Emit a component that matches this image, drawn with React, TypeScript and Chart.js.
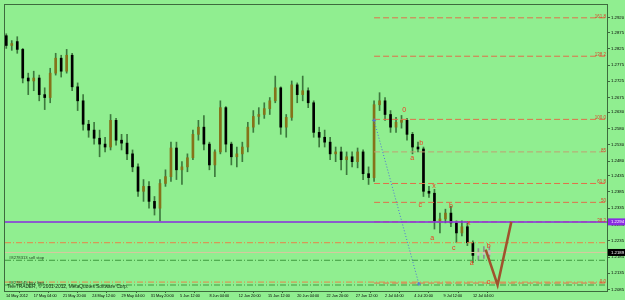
import React, { useEffect, useRef } from "react";
import { Chart, registerables } from "chart.js";

Chart.register(...registerables);

// ---- candle data (12h candles, x = H4 bar index since 14 May 2012 00:00) ----
const candleBars = [
  4, 7, 10, 13, 16, 19, 22, 25, 28, 31, 34, 37, 40, 43, 46, 49, 52, 55, 58, 61,
  64, 67, 70, 73, 76, 79, 82, 85, 88, 91, 94, 97, 100, 103, 106, 109, 112, 115, 118, 121,
  124, 127, 130, 133, 136, 139, 142, 145, 148, 151, 154, 157, 160, 163, 166, 169, 172, 175, 178, 181,
  184, 187, 190, 193, 196, 199, 202, 205, 208, 211, 214, 217, 220, 223, 226, 229, 232, 235, 238, 241,
  244, 247, 250, 253, 256, 259, 262, 265, 268,
];
const opens = [
  1.2865, 1.2835, 1.2847, 1.2823, 1.2735, 1.2726, 1.2735, 1.2684, 1.2675, 1.2750,
  1.2796, 1.2756, 1.2805, 1.2708, 1.2665, 1.2593, 1.2575, 1.2550, 1.2532, 1.2523,
  1.2605, 1.2544, 1.2535, 1.2502, 1.2462, 1.2387, 1.2402, 1.2356, 1.2335, 1.2411,
  1.2432, 1.2520, 1.2453, 1.2462, 1.2490, 1.2562, 1.2584, 1.2532, 1.2468, 1.2508,
  1.2644, 1.2532, 1.2493, 1.2502, 1.2523, 1.2584, 1.2617, 1.2623, 1.2641, 1.2665,
  1.2705, 1.2584, 1.2614, 1.2714, 1.2684, 1.2696, 1.2659, 1.2568, 1.2553, 1.2538,
  1.2502, 1.2508, 1.2484, 1.2493, 1.2478, 1.2508, 1.2441, 1.2429, 1.2653, 1.2665,
  1.2623, 1.2584, 1.2599, 1.2605, 1.2562, 1.2523, 1.2517, 1.2387, 1.2381, 1.2296,
  1.2302, 1.2320, 1.2290, 1.2259, 1.2278, 1.2229, 1.2190, 1.2199, 1.2193,
];
const highs = [
  1.2871, 1.2850, 1.2862, 1.2826, 1.2750, 1.2756, 1.2744, 1.2705, 1.2765, 1.2811,
  1.2805, 1.2823, 1.2811, 1.2720, 1.2684, 1.2605, 1.2599, 1.2575, 1.2553, 1.2623,
  1.2611, 1.2562, 1.2562, 1.2514, 1.2471, 1.2423, 1.2417, 1.2371, 1.2423, 1.2453,
  1.2538, 1.2538, 1.2478, 1.2502, 1.2575, 1.2605, 1.2620, 1.2538, 1.2514, 1.2665,
  1.2647, 1.2538, 1.2523, 1.2538, 1.2599, 1.2635, 1.2644, 1.2659, 1.2675, 1.2741,
  1.2708, 1.2623, 1.2726, 1.2720, 1.2741, 1.2705, 1.2665, 1.2584, 1.2575, 1.2553,
  1.2523, 1.2523, 1.2508, 1.2508, 1.2520, 1.2514, 1.2462, 1.2665, 1.2690, 1.2675,
  1.2635, 1.2614, 1.2620, 1.2611, 1.2568, 1.2538, 1.2523, 1.2402, 1.2393, 1.2320,
  1.2332, 1.2341, 1.2296, 1.2296, 1.2290, 1.2235, 1.2211, 1.2217, 1.2217,
];
const lows = [
  1.2826, 1.2820, 1.2811, 1.2720, 1.2684, 1.2696, 1.2665, 1.2638, 1.2659, 1.2744,
  1.2738, 1.2750, 1.2696, 1.2635, 1.2575, 1.2553, 1.2532, 1.2493, 1.2508, 1.2514,
  1.2529, 1.2514, 1.2484, 1.2447, 1.2371, 1.2356, 1.2335, 1.2314, 1.2296, 1.2402,
  1.2417, 1.2423, 1.2408, 1.2447, 1.2484, 1.2544, 1.2514, 1.2453, 1.2432, 1.2502,
  1.2508, 1.2468, 1.2462, 1.2478, 1.2508, 1.2568, 1.2593, 1.2611, 1.2623, 1.2659,
  1.2562, 1.2553, 1.2605, 1.2659, 1.2665, 1.2644, 1.2553, 1.2523, 1.2523, 1.2484,
  1.2478, 1.2453, 1.2438, 1.2462, 1.2459, 1.2423, 1.2408, 1.2417, 1.2635, 1.2605,
  1.2568, 1.2568, 1.2581, 1.2544, 1.2502, 1.2508, 1.2371, 1.2368, 1.2271, 1.2259,
  1.2290, 1.2278, 1.2229, 1.2250, 1.2220, 1.2168, 1.2175, 1.2181, 1.2187,
];
const closes = [
  1.2835, 1.2841, 1.2823, 1.2735, 1.2726, 1.2735, 1.2684, 1.2675, 1.2750, 1.2796,
  1.2756, 1.2805, 1.2708, 1.2665, 1.2593, 1.2575, 1.2550, 1.2532, 1.2523, 1.2605,
  1.2544, 1.2535, 1.2502, 1.2462, 1.2387, 1.2402, 1.2356, 1.2335, 1.2411, 1.2432,
  1.2520, 1.2453, 1.2462, 1.2490, 1.2562, 1.2584, 1.2532, 1.2468, 1.2508, 1.2644,
  1.2532, 1.2493, 1.2502, 1.2523, 1.2584, 1.2617, 1.2623, 1.2641, 1.2665, 1.2705,
  1.2584, 1.2614, 1.2714, 1.2684, 1.2696, 1.2659, 1.2568, 1.2553, 1.2538, 1.2502,
  1.2508, 1.2484, 1.2493, 1.2478, 1.2508, 1.2441, 1.2429, 1.2653, 1.2665, 1.2623,
  1.2584, 1.2599, 1.2605, 1.2562, 1.2523, 1.2517, 1.2387, 1.2381, 1.2296, 1.2302,
  1.2320, 1.2290, 1.2259, 1.2278, 1.2229, 1.2190, 1.2199, 1.2193, 1.2205,
];
// last candles shown greyed (selected area)
const greyFromBar = 262;

// ---- axes ----
const priceTicks = [
  1.2920, 1.2875, 1.2825, 1.2775, 1.2725, 1.2675, 1.2630, 1.2580, 1.2530,
  1.2480, 1.2435, 1.2385, 1.2335, 1.2285, 1.2235, 1.2185, 1.2135, 1.2085,
];
const dateTickBars = [3.8, 19, 35, 51, 67, 83, 99, 115, 131, 147, 163, 179, 195, 211, 227, 243, 259];
const dateTickLabels = [
  "14 May 2012", "17 May 04:00", "21 May 20:00", "24 May 12:00", "29 May 04:00", "31 May 20:00",
  "5 Jun 12:00", "8 Jun 04:00", "12 Jun 20:00", "15 Jun 12:00", "20 Jun 04:00", "22 Jun 20:00",
  "27 Jun 12:00", "2 Jul 04:00", "4 Jul 20:00", "9 Jul 12:00", "12 Jul 04:00",
];
const xMin = 3.3;
const xMax = 332.3;
const yMin = 1.20806;
const yMax = 1.29594;

// ---- Fibonacci levels ----
const fibPrices = [1.2920, 1.2802, 1.2608, 1.2508, 1.2411, 1.2353, 1.2293, 1.2105];
const fibLabels = ["161.8", "138.2", "100.0", "85", "61.8", "50", "38.2", "0.0"];
const fibStartBar = 205;

// ---- order / price levels (full width) ----
const orangeLevels = [1.2229, 1.2108];
const greenLevels = [1.2175, 1.2099];
const bidPrice = 1.2199;
const bidLabel = "1.2189";
const purplePrice = 1.2293;
const purpleLabel = "1.2294";
const orderTexts = ["#8278313 sell stop", "#8278145 buy limit"];
const orderTextPrices = [1.2181, 1.2106];

// ---- zigzag projection and trend line ----
const zigzagBars = [266, 272.5, 280];
const zigzagPrices = [1.2208, 1.2099, 1.2293];
const trendBars = [205, 229.5];
const trendPrices = [1.2605, 1.2102];

// ---- wave labels ----
const waveTexts = ["0", "b", "a", "x", "c", "b", "a", "x", "c", "b", "a", "c"];
const waveBars = [221.5, 230.7, 225.8, 237.8, 230.2, 247, 236.7, 256.8, 248.6, 267.6, 258.4, 267.6];
const wavePrices = [1.2638, 1.2535, 1.2490, 1.2402, 1.2344, 1.2341, 1.2244, 1.2290, 1.2214, 1.2220, 1.2165, 1.2108];

const FONT = "Liberation Sans";

export default function App() {
  const ref = useRef<HTMLCanvasElement | null>(null);

  useEffect(() => {
    const canvas = ref.current;
    if (!canvas) return;

    const wickData = candleBars.map((b, i) => ({ x: b, y: [lows[i], highs[i]] }));
    const bodyData = candleBars.map((b, i) => ({ x: b, y: [opens[i], closes[i]] }));

    const hline = (v: number, x0: number, x1: number) => [
      { x: x0, y: v },
      { x: x1, y: v },
    ];

    const datasets: any[] = [];
    datasets.push({
      type: "bar",
      data: wickData,
      grouped: false,
      barThickness: 1,
      backgroundColor: (ctx: any) =>
        candleBars[ctx.dataIndex] >= greyFromBar ? "#8f8f8f" : "rgba(25,70,25,0.7)",
      borderWidth: 0,
      order: 20,
    });
    datasets.push({
      type: "bar",
      data: bodyData,
      grouped: false,
      barThickness: 2,
      minBarLength: 1,
      backgroundColor: (ctx: any) => {
        const i = ctx.dataIndex;
        if (candleBars[i] >= greyFromBar) return "#c4c4c4";
        return closes[i] >= opens[i] ? "#85721a" : "#000000";
      },
      borderWidth: 0,
      order: 19,
    });
    fibPrices.forEach((p, i) => {
      datasets.push({
        type: "line",
        data: hline(p, fibStartBar, xMax),
        borderColor: i === 3 ? "#c0a072" : "#e0704a",
        borderWidth: 1,
        borderDash: [6, 3],
        pointRadius: 0,
        order: 15,
      });
    });
    orangeLevels.forEach((p) => {
      datasets.push({
        type: "line",
        data: hline(p, xMin, xMax),
        borderColor: "#e8834a",
        borderWidth: 1,
        borderDash: [6, 2, 1, 2],
        pointRadius: 0,
        order: 14,
      });
    });
    datasets.push({
      type: "line",
      data: hline(bidPrice, xMin, xMax),
      borderColor: "#d9c7a0",
      borderWidth: 1,
      pointRadius: 0,
      order: 14,
    });
    greenLevels.forEach((p) => {
      datasets.push({
        type: "line",
        data: hline(p, xMin, xMax),
        borderColor: "#3f9a3f",
        borderWidth: 1,
        borderDash: [6, 2, 1, 2],
        pointRadius: 0,
        order: 13,
      });
    });
    datasets.push({
      type: "line",
      data: trendBars.map((b, i) => ({ x: b, y: trendPrices[i] })),
      borderColor: "#4f74d8",
      borderWidth: 1,
      borderDash: [1, 2],
      pointRadius: 2,
      pointStyle: "cross",
      pointBorderColor: "#4f74d8",
      order: 12,
    });
    datasets.push({
      type: "line",
      data: hline(purplePrice, xMin, xMax),
      borderColor: "#8a2be2",
      borderWidth: 1.5,
      pointRadius: 0,
      order: 11,
    });
    datasets.push({
      type: "line",
      data: zigzagBars.map((b, i) => ({ x: b, y: zigzagPrices[i] })),
      borderColor: "#a0522d",
      borderWidth: 2.5,
      pointRadius: 0,
      order: 10,
    });

    const overlay = {
      id: "overlay",
      beforeDraw(chart: any) {
        const c = chart.ctx;
        c.save();
        c.fillStyle = "#90ee90";
        c.fillRect(0, 0, chart.width, chart.height);
        c.restore();
      },
      afterDraw(chart: any) {
        const c = chart.ctx;
        const xs = chart.scales.x;
        const ys = chart.scales.y;
        const a = chart.chartArea;
        c.save();
        // frame
        c.strokeStyle = "#3d6b3d";
        c.lineWidth = 1;
        c.strokeRect(a.left - 0.5, a.top - 0.5, a.right - a.left + 1, a.bottom - a.top + 1);

        // wave labels
        c.font = `7px ${FONT}`;
        c.fillStyle = "#f03a22";
        c.textAlign = "center";
        c.textBaseline = "middle";
        waveTexts.forEach((t, i) => {
          c.fillText(t, xs.getPixelForValue(waveBars[i]), ys.getPixelForValue(wavePrices[i]));
        });

        // fib labels
        c.font = `4.5px ${FONT}`;
        c.fillStyle = "#d9452a";
        c.textAlign = "right";
        c.textBaseline = "bottom";
        fibLabels.forEach((t, i) => {
          c.fillText(t, a.right - 1, ys.getPixelForValue(fibPrices[i]) + 1);
        });

        // order texts
        c.font = `4.2px ${FONT}`;
        c.fillStyle = "#1f3f1f";
        c.textAlign = "left";
        c.textBaseline = "middle";
        orderTexts.forEach((t, i) => {
          c.fillText(t, a.left + 4, ys.getPixelForValue(orderTextPrices[i]));
        });

        // copyright
        c.font = `4.8px ${FONT}`;
        c.fillStyle = "#0f2a0f";
        c.fillText("TeleTRADER, © 2001-2012, MetaQuotes Software Corp.", a.left + 2, a.bottom - 4);

        // price boxes on right axis
        const box = (price: number, text: string, bg: string) => {
          const y = ys.getPixelForValue(price);
          c.fillStyle = bg;
          c.fillRect(a.right + 1, y - 3.5, chart.width - a.right - 1, 7);
          c.fillStyle = "#ffffff";
          c.font = `4.3px ${FONT}`;
          c.textAlign = "left";
          c.textBaseline = "middle";
          c.fillText(text, a.right + 4, y);
        };
        box(purplePrice, purpleLabel, "#8a2be2");
        box(bidPrice, bidLabel, "#000000");
        c.restore();
      },
    };

    const chart = new Chart(canvas, {
      type: "bar",
      data: { datasets },
      options: {
        responsive: false,
        animation: false,
        events: [],
        layout: { padding: { left: 1, top: 1, right: 0, bottom: 0 } },
        plugins: { legend: { display: false }, tooltip: { enabled: false } },
        scales: {
          x: {
            type: "linear",
            min: xMin,
            max: xMax,
            offset: false,
            afterBuildTicks: (s: any) => {
              s.ticks = dateTickBars.map((v) => ({ value: v }));
            },
            afterFit: (s: any) => {
              s.height = 9;
              s.paddingLeft = 0;
              s.paddingRight = 0;
            },
            ticks: {
              autoSkip: false,
              maxRotation: 0,
              minRotation: 0,
              align: "start",
              padding: 1,
              color: "#000000",
              font: { size: 3.8, family: FONT },
              callback: (_v: any, i: number) => dateTickLabels[i],
            },
            grid: { drawOnChartArea: false, tickLength: 2, color: "#3d6b3d" },
            border: { display: true, color: "#3d6b3d" },
          },
          y: {
            type: "linear",
            position: "right",
            min: yMin,
            max: yMax,
            beginAtZero: false,
            afterBuildTicks: (s: any) => {
              s.ticks = priceTicks.map((v) => ({ value: v }));
            },
            afterFit: (s: any) => {
              s.width = 18;
              s.paddingTop = 0;
              s.paddingBottom = 0;
            },
            ticks: {
              autoSkip: false,
              padding: 1,
              color: "#000000",
              font: { size: 4.3, family: FONT },
              callback: (v: any) => Number(v).toFixed(4),
            },
            grid: { drawOnChartArea: false, tickLength: 3, color: "#3d6b3d" },
            border: { display: true, color: "#3d6b3d" },
          },
        },
      } as any,
      plugins: [overlay],
    });

    return () => chart.destroy();
  }, []);

  return (
    <div style={{ position: "fixed", left: 0, top: 0, width: 625, height: 300, background: "#90ee90" }}>
      <canvas ref={ref} width={625} height={300} style={{ display: "block" }} />
    </div>
  );
}
